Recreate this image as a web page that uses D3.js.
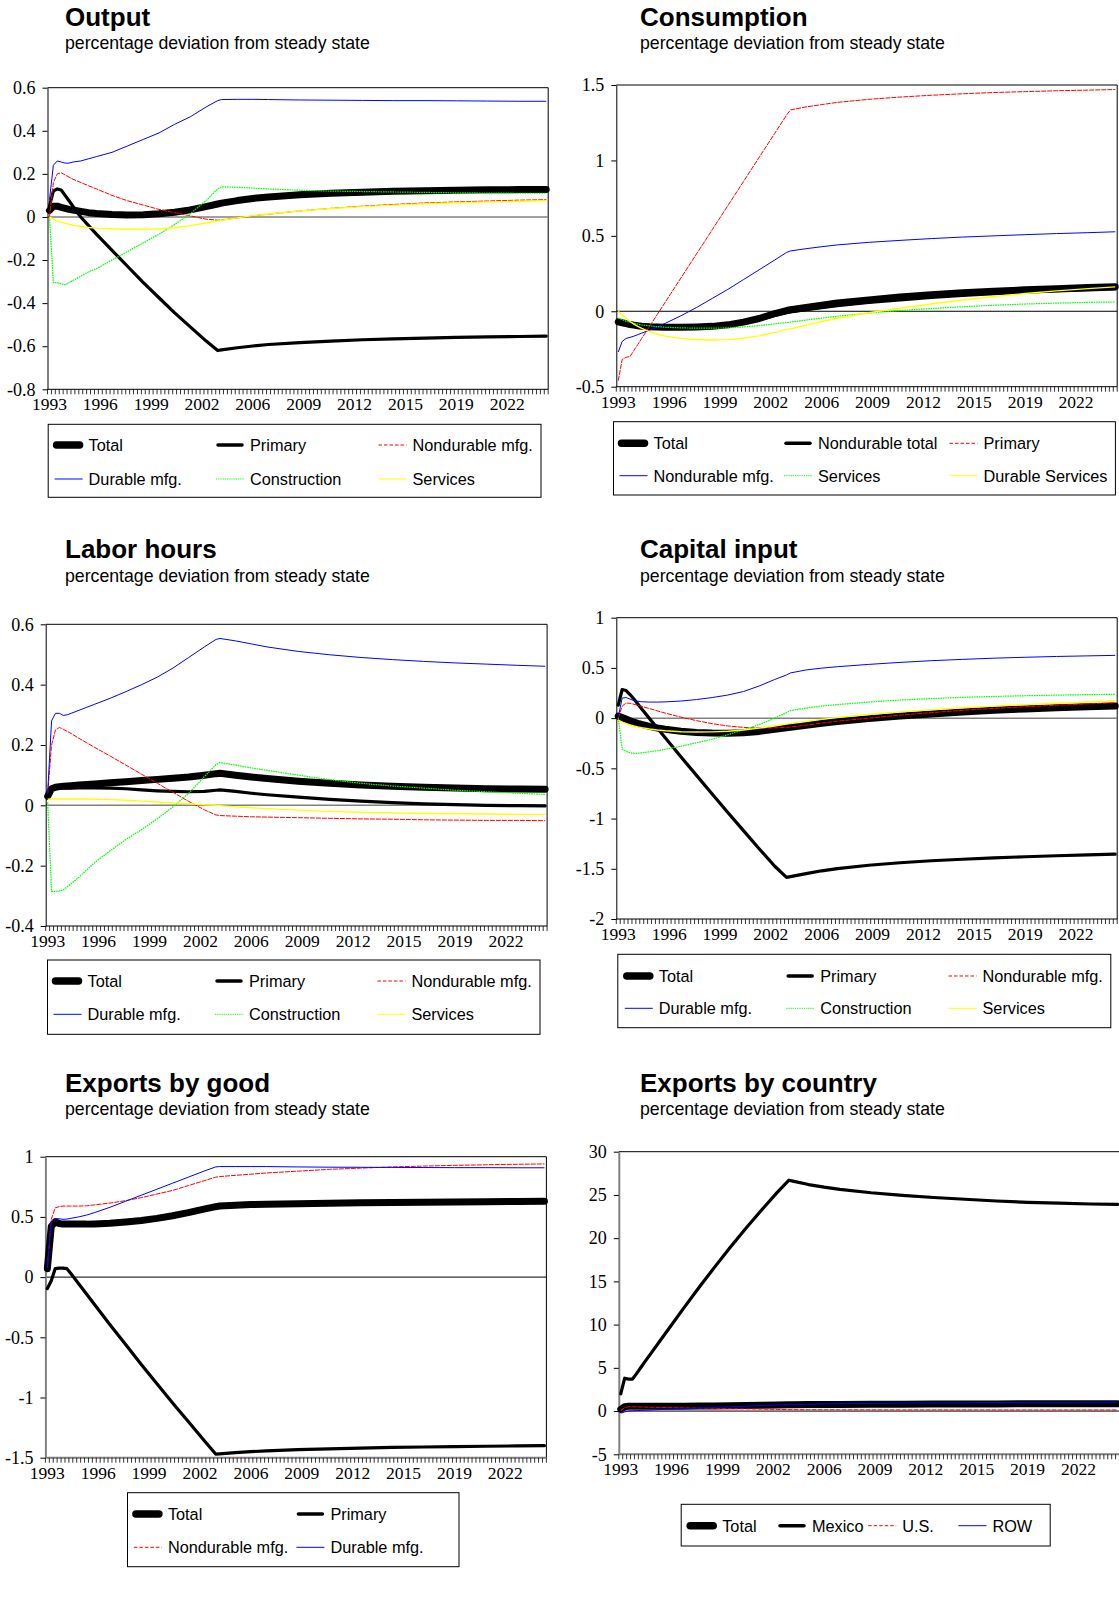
<!DOCTYPE html>
<html>
<head>
<meta charset="utf-8">
<script src="https://cdn.jsdelivr.net/npm/d3@7"></script>
<style>
  html, body { margin: 0; padding: 0; background: #fff; }
  svg { display: block; }
  .serif { font-family: "Liberation Serif", "Times New Roman", Times, serif; }
  .sans { font-family: "Liberation Sans", Arial, Helvetica, sans-serif; }
</style>
</head>
<body>
<svg id="chart" width="1119" height="1610"></svg>
<script>
// Quarters at which each simulated path is recorded (1993Q1 = first quarter of the run)
const obsQuarters = ["1993Q1","1993Q2","1993Q3","1993Q4","1994Q1","1994Q2","1994Q3","1995Q1","1995Q3","1996Q1",
  "1997Q1","1998Q1","1999Q1","2000Q1","2001Q1","2002Q1","2003Q1","2003Q4","2004Q1","2005Q1","2006Q1","2007Q1",
  "2009Q1","2011Q1","2013Q1","2015Q1","2017Q1","2019Q1","2021Q1","2023Q1","2024Q4"];

// Category axis labels, one every 13 quarters
const xTickQuarters = ["1993Q1","1996Q2","1999Q3","2002Q4","2006Q1","2009Q2","2012Q3","2015Q4","2019Q1","2022Q2"];

// ---- Output ----
const outputTicks = [-0.8, -0.6, -0.4, -0.2, 0, 0.2, 0.4, 0.6];
const outputTotal = [0.03,0.05,0.05,0.045,0.04,0.035,0.032,0.026,0.02,0.016,0.011,0.009,0.01,0.015,0.022,0.033,0.048,0.06,0.064,0.076,0.086,0.093,0.103,0.11,0.115,0.119,0.122,0.124,0.126,0.127,0.128];
const outputPrimary = [0.05,0.12,0.13,0.125,0.1,0.075,0.05,0.0,-0.04,-0.08,-0.155,-0.23,-0.305,-0.375,-0.445,-0.51,-0.575,-0.62,-0.617,-0.607,-0.599,-0.592,-0.583,-0.576,-0.57,-0.566,-0.562,-0.559,-0.557,-0.555,-0.553];
const outputNondurable = [0,0.16,0.2,0.205,0.195,0.185,0.175,0.16,0.145,0.13,0.1,0.075,0.055,0.035,0.02,0.005,-0.01,-0.015,-0.013,-0.005,0.005,0.013,0.028,0.04,0.05,0.058,0.065,0.07,0.074,0.078,0.08];
const outputDurable = [0.08,0.24,0.26,0.255,0.25,0.25,0.255,0.26,0.27,0.28,0.3,0.33,0.36,0.39,0.43,0.465,0.51,0.54,0.545,0.546,0.546,0.545,0.543,0.542,0.541,0.54,0.54,0.539,0.538,0.537,0.537];
const outputConstruction = [0,-0.305,-0.305,-0.31,-0.315,-0.305,-0.295,-0.275,-0.255,-0.24,-0.2,-0.16,-0.12,-0.08,-0.035,0.015,0.075,0.13,0.14,0.138,0.134,0.13,0.124,0.12,0.118,0.116,0.114,0.112,0.111,0.11,0.11];
const outputServices = [0,-0.01,-0.018,-0.024,-0.03,-0.034,-0.038,-0.044,-0.049,-0.052,-0.055,-0.056,-0.057,-0.055,-0.05,-0.04,-0.028,-0.018,-0.015,-0.004,0.006,0.014,0.028,0.039,0.048,0.055,0.061,0.066,0.07,0.073,0.075];

// ---- Consumption ----
const consTicks = [-0.5, 0, 0.5, 1, 1.5];
const consTotal = [-0.07,-0.076,-0.082,-0.088,-0.092,-0.096,-0.099,-0.103,-0.105,-0.106,-0.106,-0.104,-0.1,-0.09,-0.072,-0.048,-0.015,0.005,0.01,0.025,0.04,0.055,0.075,0.095,0.11,0.123,0.133,0.142,0.15,0.157,0.163];
const consNondTotal = [-0.07,-0.076,-0.082,-0.087,-0.091,-0.095,-0.098,-0.103,-0.106,-0.108,-0.109,-0.107,-0.104,-0.096,-0.08,-0.058,-0.028,-0.01,-0.005,0.01,0.024,0.037,0.058,0.076,0.092,0.106,0.117,0.127,0.135,0.142,0.148];
const consPrimary = [-0.46,-0.32,-0.305,-0.3,-0.26,-0.22,-0.18,-0.1,-0.02,0.06,0.22,0.38,0.54,0.7,0.86,1.02,1.18,1.3,1.335,1.355,1.37,1.385,1.405,1.42,1.432,1.442,1.45,1.456,1.462,1.466,1.47];
const consNondMfg = [-0.27,-0.2,-0.18,-0.173,-0.165,-0.155,-0.145,-0.125,-0.103,-0.08,-0.03,0.025,0.085,0.145,0.21,0.275,0.34,0.39,0.4,0.415,0.428,0.44,0.457,0.47,0.482,0.492,0.5,0.508,0.515,0.521,0.527];
const consServices = [-0.045,-0.055,-0.065,-0.072,-0.08,-0.085,-0.09,-0.097,-0.102,-0.106,-0.11,-0.112,-0.112,-0.11,-0.104,-0.095,-0.083,-0.075,-0.072,-0.058,-0.045,-0.033,-0.012,0.005,0.018,0.03,0.04,0.048,0.054,0.059,0.062];
const consDurServices = [0,-0.025,-0.048,-0.068,-0.085,-0.1,-0.113,-0.135,-0.152,-0.165,-0.18,-0.187,-0.19,-0.188,-0.178,-0.163,-0.14,-0.122,-0.117,-0.092,-0.068,-0.046,-0.01,0.02,0.048,0.075,0.098,0.118,0.135,0.15,0.162];

// ---- Labor hours ----
const laborTicks = [-0.4, -0.2, 0, 0.2, 0.4, 0.6];
const laborTotal = [0.03,0.055,0.06,0.062,0.063,0.064,0.065,0.067,0.069,0.071,0.075,0.078,0.082,0.086,0.09,0.094,0.1,0.105,0.106,0.1,0.094,0.089,0.08,0.073,0.067,0.063,0.06,0.057,0.055,0.054,0.053];
const laborPrimary = [0.03,0.055,0.06,0.06,0.058,0.057,0.057,0.058,0.058,0.058,0.057,0.055,0.051,0.048,0.046,0.045,0.046,0.05,0.051,0.046,0.04,0.035,0.027,0.02,0.014,0.009,0.005,0.002,0,-0.001,-0.002];
const laborNondMfg = [0.04,0.2,0.25,0.258,0.252,0.245,0.238,0.222,0.207,0.192,0.163,0.133,0.103,0.073,0.043,0.013,-0.015,-0.032,-0.034,-0.036,-0.038,-0.039,-0.041,-0.043,-0.045,-0.046,-0.048,-0.049,-0.05,-0.05,-0.051];
const laborDurMfg = [0.04,0.28,0.305,0.305,0.298,0.3,0.305,0.315,0.325,0.335,0.355,0.377,0.4,0.425,0.455,0.49,0.525,0.55,0.553,0.545,0.535,0.525,0.51,0.499,0.49,0.483,0.477,0.472,0.468,0.464,0.461];
const laborConstruction = [0.01,-0.285,-0.285,-0.284,-0.28,-0.27,-0.26,-0.238,-0.214,-0.19,-0.15,-0.113,-0.08,-0.045,-0.005,0.04,0.095,0.135,0.142,0.133,0.124,0.116,0.1,0.085,0.073,0.064,0.057,0.05,0.045,0.04,0.036];
const laborServices = [0.02,0.021,0.021,0.021,0.021,0.021,0.021,0.021,0.021,0.02,0.019,0.017,0.014,0.011,0.008,0.005,0.002,0,-0.001,-0.005,-0.008,-0.011,-0.016,-0.02,-0.023,-0.025,-0.027,-0.028,-0.029,-0.03,-0.03];

// ---- Capital input ----
const capTicks = [-2, -1.5, -1, -0.5, 0, 0.5, 1];
const capTotal = [0.02,0.005,-0.01,-0.025,-0.04,-0.052,-0.063,-0.082,-0.098,-0.11,-0.13,-0.142,-0.148,-0.15,-0.145,-0.132,-0.112,-0.095,-0.09,-0.07,-0.05,-0.033,-0.005,0.02,0.042,0.062,0.078,0.092,0.104,0.114,0.122];
const capPrimary = [0.13,0.285,0.275,0.235,0.19,0.14,0.09,-0.005,-0.1,-0.195,-0.385,-0.57,-0.755,-0.94,-1.12,-1.3,-1.475,-1.585,-1.578,-1.548,-1.52,-1.498,-1.465,-1.44,-1.42,-1.405,-1.392,-1.38,-1.37,-1.362,-1.355];
const capNondMfg = [0,0.12,0.15,0.148,0.138,0.127,0.116,0.095,0.072,0.05,0.01,-0.025,-0.055,-0.078,-0.092,-0.098,-0.097,-0.092,-0.088,-0.07,-0.05,-0.03,0,0.03,0.055,0.078,0.097,0.113,0.128,0.142,0.153];
const capDurMfg = [0.01,0.2,0.205,0.19,0.175,0.168,0.163,0.16,0.16,0.162,0.17,0.185,0.205,0.23,0.265,0.32,0.385,0.43,0.45,0.48,0.498,0.512,0.535,0.555,0.572,0.585,0.597,0.606,0.614,0.62,0.625];
const capConstruction = [0,-0.31,-0.33,-0.345,-0.35,-0.35,-0.345,-0.335,-0.325,-0.31,-0.28,-0.245,-0.21,-0.165,-0.115,-0.065,0,0.055,0.075,0.1,0.12,0.135,0.16,0.18,0.195,0.207,0.216,0.223,0.229,0.234,0.237];
const capServices = [-0.02,-0.04,-0.055,-0.068,-0.078,-0.087,-0.095,-0.108,-0.118,-0.126,-0.135,-0.138,-0.137,-0.13,-0.118,-0.1,-0.078,-0.06,-0.055,-0.033,-0.012,0.006,0.036,0.062,0.084,0.103,0.12,0.135,0.148,0.16,0.17];

// ---- Exports by good ----
const ebgTicks = [-1.5, -1, -0.5, 0, 0.5, 1];
const ebgTotal = [0.07,0.42,0.46,0.445,0.44,0.44,0.44,0.44,0.44,0.442,0.448,0.458,0.47,0.488,0.51,0.535,0.565,0.585,0.59,0.597,0.602,0.605,0.61,0.614,0.617,0.62,0.622,0.624,0.626,0.628,0.63];
const ebgPrimary = [-0.095,-0.03,0.07,0.075,0.075,0.07,0.03,-0.055,-0.14,-0.225,-0.395,-0.56,-0.725,-0.885,-1.045,-1.2,-1.355,-1.47,-1.468,-1.458,-1.45,-1.443,-1.433,-1.426,-1.42,-1.415,-1.411,-1.408,-1.405,-1.402,-1.4];
const ebgNondMfg = [0.08,0.48,0.575,0.585,0.59,0.59,0.59,0.59,0.592,0.6,0.615,0.635,0.66,0.69,0.72,0.76,0.8,0.83,0.835,0.845,0.855,0.865,0.88,0.895,0.905,0.915,0.922,0.928,0.933,0.937,0.94];
const ebgDurMfg = [0.08,0.46,0.485,0.485,0.48,0.482,0.488,0.5,0.515,0.535,0.58,0.63,0.68,0.73,0.78,0.83,0.88,0.915,0.918,0.918,0.918,0.918,0.915,0.913,0.912,0.911,0.91,0.909,0.909,0.908,0.908];

// ---- Exports by country ----
const ebcTicks = [-5, 0, 5, 10, 15, 20, 25, 30];
const ebcTotal = [0.2,0.5,0.55,0.55,0.55,0.55,0.55,0.55,0.555,0.56,0.57,0.58,0.6,0.62,0.65,0.68,0.71,0.73,0.74,0.75,0.76,0.77,0.79,0.8,0.81,0.82,0.83,0.84,0.84,0.85,0.85];
const ebcMexico = [2.0,3.8,3.7,3.7,4.3,4.95,5.6,6.85,8.1,9.35,11.85,14.3,16.65,18.95,21.15,23.25,25.3,26.7,26.6,26.2,25.9,25.65,25.25,24.95,24.7,24.5,24.3,24.15,24.05,23.95,23.9];
const ebcUS = [0.05,0.4,0.5,0.5,0.48,0.47,0.46,0.44,0.42,0.4,0.37,0.34,0.31,0.28,0.25,0.22,0.19,0.17,0.165,0.16,0.155,0.15,0.145,0.14,0.14,0.135,0.135,0.13,0.13,0.13,0.13];
const ebcROW = [-0.25,-0.1,0,0.03,0.05,0.07,0.09,0.13,0.17,0.21,0.28,0.35,0.42,0.5,0.57,0.64,0.71,0.76,0.77,0.8,0.83,0.85,0.89,0.92,0.95,0.97,0.99,1.0,1.01,1.02,1.03];

// Every quarter of the run, used as the band domain of each category axis
const allQuarters = [];
for (let yr = 1993; yr <= 2024; yr++) for (let q = 1; q <= 4; q++) allQuarters.push(yr + "Q" + q);

// Line looks shared by all panels
const lineKinds = {
  total:  { color: "#000000", width: 7,   join: "round", cap: "round" },
  bold:   { color: "#000000", width: 3.2, join: "round", cap: "round" },
  red:    { color: "#FF0000", width: 1,   dash: "5,1" },
  blue:   { color: "#0000FF", width: 1 },
  green:  { color: "#00FF00", width: 1.2, dash: "1.6,0.8" },
  yellow: { color: "#FFFF00", width: 1.4 }
};
// Legend swatches use a shorter dash so several repeats fit
const legendDash = { red: "3.5,2", green: "1.2,1" };

const SUBTITLE = "percentage deviation from steady state";

const panels = [
  {
    title: "Output", tx: 65, ty: 26, sy: 49,
    plot: { x: 47.5, y: 87.7, w: 500.7, h: 301.6 },
    domain: [-0.8, 0.6], ticks: outputTicks, zero: "#808080", axis: "#000",
    series: [
      { name: "Total", values: outputTotal, kind: "total" },
      { name: "Primary", values: outputPrimary, kind: "bold" },
      { name: "Nondurable mfg.", values: outputNondurable, kind: "red" },
      { name: "Durable mfg.", values: outputDurable, kind: "blue" },
      { name: "Construction", values: outputConstruction, kind: "green" },
      { name: "Services", values: outputServices, kind: "yellow" }
    ],
    legend: { x: 48.2, y: 424.3, w: 492.8, h: 73, rows: [20.7, 54.7], cols: [40.4, 201.8, 364.3] }
  },
  {
    title: "Consumption", tx: 640, ty: 26, sy: 49,
    plot: { x: 616.3, y: 85, w: 500.9, h: 301.7 },
    domain: [-0.5, 1.5], ticks: consTicks, zero: "#000", axis: "#000",
    series: [
      { name: "Total", values: consTotal, kind: "total" },
      { name: "Nondurable total", values: consNondTotal, kind: "bold" },
      { name: "Primary", values: consPrimary, kind: "red" },
      { name: "Nondurable mfg.", values: consNondMfg, kind: "blue" },
      { name: "Services", values: consServices, kind: "green" },
      { name: "Durable Services", values: consDurServices, kind: "yellow" }
    ],
    legend: { x: 613.5, y: 421.7, w: 501.9, h: 73.3, rows: [21.6, 54], cols: [40, 204.5, 370] }
  },
  {
    title: "Labor hours", tx: 65, ty: 558.3, sy: 581.5,
    plot: { x: 45.7, y: 624.3, w: 501.4, h: 301.7 },
    domain: [-0.4, 0.6], ticks: laborTicks, zero: "#808080", axis: "#000",
    series: [
      { name: "Total", values: laborTotal, kind: "total" },
      { name: "Primary", values: laborPrimary, kind: "bold" },
      { name: "Nondurable mfg.", values: laborNondMfg, kind: "red" },
      { name: "Durable mfg.", values: laborDurMfg, kind: "blue" },
      { name: "Construction", values: laborConstruction, kind: "green" },
      { name: "Services", values: laborServices, kind: "yellow" }
    ],
    legend: { x: 47.5, y: 960, w: 492.5, h: 74.3, rows: [21, 54.3], cols: [40, 201.5, 363.9] }
  },
  {
    title: "Capital input", tx: 640, ty: 558.3, sy: 581.5,
    plot: { x: 616.3, y: 617.7, w: 500.9, h: 301.3 },
    domain: [-2, 1], ticks: capTicks, zero: "#808080", axis: "#000",
    series: [
      { name: "Total", values: capTotal, kind: "total" },
      { name: "Primary", values: capPrimary, kind: "bold" },
      { name: "Nondurable mfg.", values: capNondMfg, kind: "red" },
      { name: "Durable mfg.", values: capDurMfg, kind: "blue" },
      { name: "Construction", values: capConstruction, kind: "green" },
      { name: "Services", values: capServices, kind: "yellow" }
    ],
    legend: { x: 617.8, y: 954.3, w: 493, h: 73.4, rows: [21.7, 54], cols: [41, 202.4, 364.7] }
  },
  {
    title: "Exports by good", tx: 65, ty: 1091.7, sy: 1114.5,
    plot: { x: 45.4, y: 1156.7, w: 501, h: 301 },
    domain: [-1.5, 1], ticks: ebgTicks, zero: "#000", axis: "#808080",
    series: [
      { name: "Total", values: ebgTotal, kind: "total" },
      { name: "Primary", values: ebgPrimary, kind: "bold" },
      { name: "Nondurable mfg.", values: ebgNondMfg, kind: "red" },
      { name: "Durable mfg.", values: ebgDurMfg, kind: "blue" }
    ],
    legend: { x: 127.5, y: 1492.7, w: 331.5, h: 74, rows: [21.3, 54.6], cols: [40.4, 202.9] }
  },
  {
    title: "Exports by country", tx: 640, ty: 1091.7, sy: 1114.5,
    plot: { x: 618.8, y: 1151.7, w: 500.7, h: 302.6 },
    domain: [-5, 30], ticks: ebcTicks, zero: "#000", axis: "#808080",
    series: [
      { name: "Total", values: ebcTotal, kind: "total" },
      { name: "Mexico", values: ebcMexico, kind: "bold" },
      { name: "U.S.", values: ebcUS, kind: "red" },
      { name: "ROW", values: ebcROW, kind: "blue" }
    ],
    legend: { x: 681.2, y: 1504.3, w: 369, h: 41.7, rows: [21.4], cols: [41, 130.8, 221, 311.2] }
  }
];

const svg = d3.select("#chart");
const fmt = d => String(+d.toFixed(2));

function applyKind(sel, k) {
  sel.attr("fill", "none")
    .attr("stroke", k.color)
    .attr("stroke-width", k.width)
    .attr("stroke-linejoin", k.join || "miter")
    .attr("stroke-linecap", k.cap || "butt");
  if (k.dash) sel.attr("stroke-dasharray", k.dash);
  return sel;
}

panels.forEach(p => {
  const g = svg.append("g");
  const P = p.plot;

  // Headings
  g.append("text").attr("class", "sans").attr("x", p.tx).attr("y", p.ty)
    .style("font-weight", "bold").style("font-size", "26px")
    .attr("fill", "#000").text(p.title);
  g.append("text").attr("class", "sans").attr("x", p.tx).attr("y", p.sy)
    .style("font-size", "17.7px")
    .attr("fill", "#000").text(SUBTITLE);

  const x = d3.scaleBand().domain(allQuarters).range([P.x, P.x + P.w]).padding(0);
  const y = d3.scaleLinear().domain(p.domain).range([P.y + P.h, P.y]);
  const half = x.bandwidth() / 2;

  // Plot area frame (top and right edges)
  g.append("path")
    .attr("d", `M${P.x},${P.y}H${P.x + P.w}V${P.y + P.h}`)
    .attr("fill", "none").attr("stroke", "#000").attr("stroke-width", 1);

  // Zero reference line
  g.append("line")
    .attr("x1", P.x).attr("x2", P.x + P.w)
    .attr("y1", y(0)).attr("y2", y(0))
    .attr("stroke", p.zero).attr("stroke-width", p.zero === "#000" ? 1 : 1.5);

  // Value axis
  const ya = g.append("g").attr("transform", `translate(${P.x},0)`)
    .call(d3.axisLeft(y).tickValues(p.ticks).tickSize(5).tickSizeOuter(0).tickPadding(7).tickFormat(fmt));
  ya.attr("font-family", null).attr("font-size", null);
  ya.select(".domain").attr("stroke", p.axis).attr("stroke-width", p.axis === "#000" ? 1 : 2);
  ya.selectAll(".tick line").attr("stroke", "#000");
  ya.selectAll(".tick text").attr("class", "serif").style("font-size", "18px").attr("fill", "#000");

  // Category axis: baseline, one tick per quarter boundary, a label every 13 quarters
  const xa = g.append("g");
  xa.append("line").attr("x1", P.x).attr("x2", P.x + P.w)
    .attr("y1", P.y + P.h).attr("y2", P.y + P.h)
    .attr("stroke", p.axis).attr("stroke-width", p.axis === "#000" ? 1 : 2);
  const bounds = allQuarters.map(q => x(q)).concat([x.range()[1]]);
  xa.selectAll("line.qt").data(bounds).join("line").attr("class", "qt")
    .attr("x1", d => d).attr("x2", d => d)
    .attr("y1", P.y + P.h).attr("y2", P.y + P.h + 5)
    .attr("stroke", "#000").attr("stroke-width", 0.8);
  xa.selectAll("text").data(xTickQuarters).join("text")
    .attr("class", "serif")
    .attr("x", d => x(d) + half).attr("y", P.y + P.h + 21)
    .attr("text-anchor", "middle")
    .style("font-size", "17.5px").attr("fill", "#000")
    .text(d => d.slice(0, 4));

  // Series paths
  const line = d3.line().x(d => x(d.q) + half).y(d => y(d.v));
  p.series.forEach(s => {
    const pts = obsQuarters.map((q, i) => ({ q, v: s.values[i] }));
    applyKind(g.append("path").datum(pts).attr("d", line), lineKinds[s.kind]);
  });

  // Legend
  const L = p.legend;
  const lg = g.append("g").attr("transform", `translate(${L.x},${L.y})`);
  lg.append("rect").attr("x", 0).attr("y", 0).attr("width", L.w).attr("height", L.h)
    .attr("fill", "#fff").attr("stroke", "#000").attr("stroke-width", 1);
  const nCols = L.cols.length;
  p.series.forEach((s, i) => {
    const cx = L.cols[i % nCols];
    const cy = L.rows[Math.floor(i / nCols)];
    const k = lineKinds[s.kind];
    let x1 = cx - 34, x2 = cx - 6, w = 1;
    if (s.kind === "total") { x1 = cx - 32; x2 = cx - 9; w = 7.5; }
    if (s.kind === "bold") { x1 = cx - 32; x2 = cx - 8; w = 3.5; }
    const sw = applyKind(lg.append("line").attr("x1", x1).attr("x2", x2).attr("y1", cy).attr("y2", cy), k)
      .attr("stroke-width", w);
    if (legendDash[s.kind]) sw.attr("stroke-dasharray", legendDash[s.kind]);
    lg.append("text").attr("class", "sans").attr("x", cx).attr("y", cy).attr("dy", "0.36em")
      .style("font-size", "16.3px").attr("fill", "#000")
      .text(s.name);
  });
});
</script>
</body>
</html>
